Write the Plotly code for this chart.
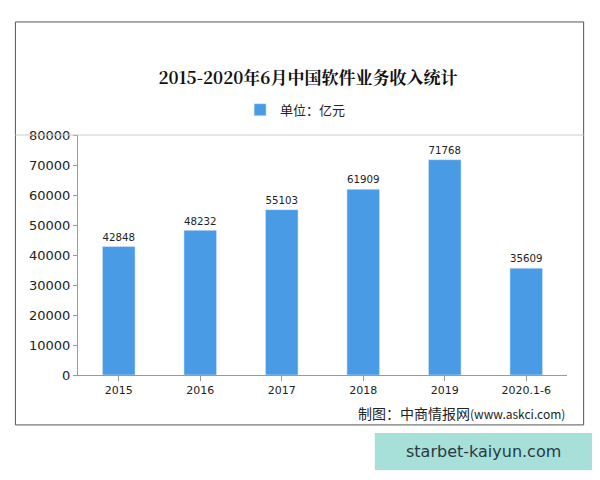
import plotly.graph_objects as go

anos = ["2015", "2016", "2017", "2018", "2019", "2020.1-6"]
receita = [42848, 48232, 55103, 61909, 71768, 35609]
y_ticks = [0, 10000, 20000, 30000, 40000, 50000, 60000, 70000, 80000]

fig = go.Figure()
fig.add_trace(go.Bar(
    x=anos, y=receita, name="单位：亿元",
    marker=dict(color="#4A9BE6"), width=0.4,
    text=[str(v) for v in receita], textposition="outside",
    textfont=dict(size=11, color="#222", family="DejaVu Sans"),
    cliponaxis=False,
))

# a pagina tem margem de 8px, por isso tudo vai 8px para cima/esquerda
fig.update_layout(
    width=600, height=480,
    paper_bgcolor="white", plot_bgcolor="white",
    margin=dict(l=70, r=41, t=127, b=113, autoexpand=False),
    font=dict(family="Noto Sans CJK SC", color="#222"),
    title=dict(text="<b>2015-2020年6月中国软件业务收入统计</b>", x=0.5, y=0.855, xanchor="center",
               yanchor="middle",
               font=dict(size=17, family="Noto Serif CJK SC, serif", color="#111")),
    legend=dict(orientation="h", x=0.445, xanchor="center", y=1.105, yanchor="middle",
                font=dict(size=13), itemwidth=30),
    showlegend=True,
)
fig.update_xaxes(showline=True, linecolor="#999", ticks="outside", tickcolor="#999",
                 ticklen=5, tickfont=dict(size=11, family="DejaVu Sans"), automargin=False)
fig.update_yaxes(range=[0, 80000], tickvals=y_ticks, ticktext=[str(v) for v in y_ticks],
                 showgrid=False, showline=True, automargin=False,
                 linecolor="#999", ticks="outside", tickcolor="#999", ticklen=4,
                 tickfont=dict(size=13, family="DejaVu Sans"))

# moldura e linha superior
fig.add_shape(type="rect", xref="paper", yref="paper", x0=-0.128, x1=1.034, y0=-0.208, y1=1.471,
              line=dict(color="#555", width=1))
fig.add_shape(type="line", xref="paper", yref="paper", x0=-0.128, x1=1.034, y0=1.0, y1=1.0,
              line=dict(color="#ccc", width=1))
fig.add_annotation(text="制图：中商情报网<span style='font-size:12px'>(www.askci.com)</span>",
                   xref="paper", yref="paper", x=1.0, y=-0.158, xanchor="right", yanchor="middle",
                   showarrow=False, font=dict(size=14))
fig.add_shape(type="rect", xref="paper", yref="paper", x0=0.607, x1=1.053, y0=-0.242, y1=-0.396,
              fillcolor="#A6E0D9", line=dict(width=0))
fig.add_annotation(text="starbet-kaiyun.com", xref="paper", yref="paper", x=0.83, y=-0.317,
                   xanchor="center", yanchor="middle",
                   showarrow=False, font=dict(size=16, color="#2a3a40", family="DejaVu Sans"))

fig.write_html("out.html")
